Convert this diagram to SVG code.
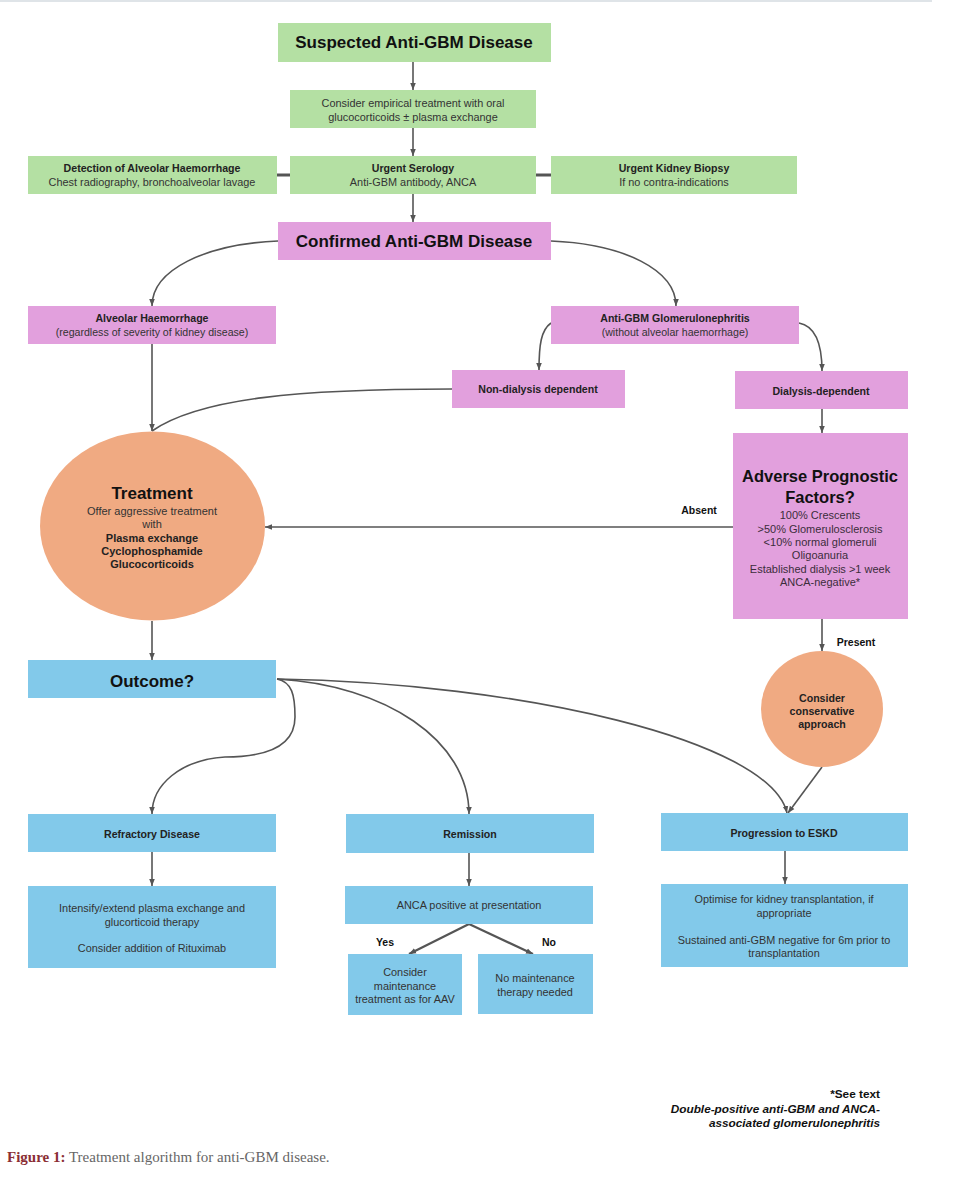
<svg xmlns="http://www.w3.org/2000/svg" width="961" height="1200" viewBox="0 0 961 1200">
<style>
.g{fill:#b4e0a3}
.p{fill:#e2a0dd}
.bl{fill:#82c9ea}
.o{fill:#f0aa82}
text{font-family:"Liberation Sans",Arial,sans-serif;text-anchor:middle;fill:#222}
.h{font-size:17px;font-weight:bold;fill:#111}
.hb{font-size:10.6px;font-weight:bold;fill:#222}
.n{font-size:10.9px;fill:#333}
.s{font-size:10.6px;fill:#333}
.lbl{font-size:10.5px;font-weight:bold;fill:#111}
.e{font-size:11px;fill:#333}
.eb{font-size:11px;font-weight:bold;fill:#222}
.c{fill:none;stroke:#555;stroke-width:1.6}
.fn{text-anchor:end;font-size:11.8px;font-weight:bold;fill:#111}
</style>
<defs>
<marker id="ah" viewBox="0 0 10 10" refX="10" refY="5" markerWidth="7" markerHeight="7" markerUnits="userSpaceOnUse" orient="auto"><path d="M0,1 L10,5 L0,9 z" fill="#555"/></marker>
</defs>
<rect width="961" height="1200" fill="#fff"/>
<line x1="0" y1="1" x2="932" y2="1" stroke="#dfe4e8" stroke-width="2"/>

<g id="connectors">
<line class="c" x1="413" y1="62" x2="413" y2="90" marker-end="url(#ah)"/>
<line class="c" x1="413" y1="128" x2="413" y2="156" marker-end="url(#ah)"/>
<line class="c" x1="413" y1="194" x2="413" y2="222" marker-end="url(#ah)"/>
<line x1="277" y1="175" x2="290" y2="175" stroke="#555" stroke-width="3"/>
<line x1="536" y1="175" x2="551" y2="175" stroke="#555" stroke-width="3"/>
<path class="c" d="M278,241 C205,244 152,270 152,306" marker-end="url(#ah)"/>
<path class="c" d="M551,241 C624,244 676,270 676,306" marker-end="url(#ah)"/>
<path class="c" d="M551,323 C541,330 539,345 539,370" marker-end="url(#ah)"/>
<path class="c" d="M799,323 C815,326 822,342 822,371" marker-end="url(#ah)"/>
<line class="c" x1="152" y1="344" x2="152" y2="431" marker-end="url(#ah)"/>
<path class="c" d="M452,389 C300,389 200,398 152,431"/>
<line class="c" x1="822" y1="409" x2="822" y2="433" marker-end="url(#ah)"/>
<line class="c" x1="733" y1="527" x2="265" y2="527" marker-end="url(#ah)"/>
<line class="c" x1="822" y1="619" x2="822" y2="651" marker-end="url(#ah)"/>
<line class="c" x1="152" y1="621" x2="152" y2="660" marker-end="url(#ah)"/>
<path class="c" d="M277,679 C292,682 295,695 295,717 C295,745 270,757 225,757 C180,760 152,785 152,814" marker-end="url(#ah)"/>
<path class="c" d="M277,679 C385,685 469,740 469,814" marker-end="url(#ah)"/>
<path class="c" d="M277,679 C520,683 770,740 787,813" marker-end="url(#ah)"/>
<line class="c" x1="822" y1="767" x2="788" y2="813" marker-end="url(#ah)"/>
<line class="c" x1="152" y1="852" x2="152" y2="886" marker-end="url(#ah)"/>
<line class="c" x1="469" y1="853" x2="469" y2="886" marker-end="url(#ah)"/>
<line class="c" x1="785" y1="851" x2="785" y2="884" marker-end="url(#ah)"/>
<line x1="469" y1="924" x2="409" y2="954" stroke="#555" stroke-width="2.2" marker-end="url(#ah)"/>
<line x1="469" y1="924" x2="533" y2="954" stroke="#555" stroke-width="2.2" marker-end="url(#ah)"/>
</g>

<g id="suspected"><rect class="g" x="278" y="23" width="273" height="39"/><text class="h" x="414" y="48">Suspected Anti-GBM Disease</text></g>
<g id="empirical"><rect class="g" x="290" y="90" width="246" height="38"/><text class="n" x="413" y="107">Consider empirical treatment with oral</text><text class="n" x="413" y="121">glucocorticoids ± plasma exchange</text></g>
<g id="detection"><rect class="g" x="28" y="156" width="249" height="38"/><text class="hb" x="152" y="172">Detection of Alveolar Haemorrhage</text><text class="n" x="152" y="186">Chest radiography, bronchoalveolar lavage</text></g>
<g id="serology"><rect class="g" x="290" y="156" width="246" height="38"/><text class="hb" x="413" y="172">Urgent Serology</text><text class="n" x="413" y="186">Anti-GBM antibody, ANCA</text></g>
<g id="biopsy"><rect class="g" x="551" y="156" width="246" height="38"/><text class="hb" x="674" y="172">Urgent Kidney Biopsy</text><text class="n" x="674" y="186">If no contra-indications</text></g>

<g id="confirmed"><rect class="p" x="278" y="222" width="273" height="38"/><text class="h" x="414" y="247">Confirmed Anti-GBM Disease</text></g>
<g id="alveolar"><rect class="p" x="28" y="306" width="248" height="38"/><text class="hb" x="152" y="322">Alveolar Haemorrhage</text><text class="s" x="152" y="336">(regardless of severity of kidney disease)</text></g>
<g id="antigbm"><rect class="p" x="551" y="306" width="248" height="38"/><text class="hb" x="675" y="322">Anti-GBM Glomerulonephritis</text><text class="s" x="675" y="336">(without alveolar haemorrhage)</text></g>
<g id="nondialysis"><rect class="p" x="452" y="370" width="173" height="38"/><text class="hb" x="538" y="393">Non-dialysis dependent</text></g>
<g id="dialysis"><rect class="p" x="735" y="371" width="173" height="38"/><text class="hb" x="821" y="395">Dialysis-dependent</text></g>
<g id="adverse"><rect class="p" x="733" y="433" width="175" height="186"/>
<text class="h" x="820" y="482" style="font-size:16.5px">Adverse Prognostic</text>
<text class="h" x="820" y="503" style="font-size:16.5px">Factors?</text>
<text class="e" x="820" y="519" style="fill:#3b2d3b">100% Crescents</text>
<text class="e" x="820" y="533" style="fill:#3b2d3b">&gt;50% Glomerulosclerosis</text>
<text class="e" x="820" y="546" style="fill:#3b2d3b">&lt;10% normal glomeruli</text>
<text class="e" x="820" y="559" style="fill:#3b2d3b">Oligoanuria</text>
<text class="e" x="820" y="573" style="fill:#3b2d3b">Established dialysis &gt;1 week</text>
<text class="e" x="820" y="586" style="fill:#3b2d3b">ANCA-negative*</text>
</g>
<text class="lbl" x="699" y="514">Absent</text>
<text class="lbl" x="856" y="646">Present</text>

<g id="treatment"><ellipse class="o" cx="152.5" cy="526" rx="112.5" ry="94.5"/>
<text class="h" x="152" y="499">Treatment</text>
<text class="e" x="152" y="515">Offer aggressive treatment</text>
<text class="e" x="152" y="528">with</text>
<text class="eb" x="152" y="542">Plasma exchange</text>
<text class="eb" x="152" y="555">Cyclophosphamide</text>
<text class="eb" x="152" y="568">Glucocorticoids</text>
</g>
<g id="conservative"><ellipse class="o" cx="822" cy="709" rx="61" ry="58"/>
<text class="hb" x="822" y="702">Consider</text>
<text class="hb" x="822" y="715">conservative</text>
<text class="hb" x="822" y="728">approach</text>
</g>

<g id="outcome"><rect class="bl" x="28" y="660" width="248" height="38"/><text class="h" x="152" y="687">Outcome?</text></g>
<g id="refractory"><rect class="bl" x="28" y="814" width="248" height="38"/><text class="hb" x="152" y="838">Refractory Disease</text></g>
<g id="remission"><rect class="bl" x="346" y="814" width="248" height="39"/><text class="hb" x="470" y="838">Remission</text></g>
<g id="eskd"><rect class="bl" x="661" y="813" width="247" height="38"/><text class="hb" x="784" y="837">Progression to ESKD</text></g>
<g id="intensify"><rect class="bl" x="28" y="886" width="248" height="82"/>
<text class="n" x="152" y="912">Intensify/extend plasma exchange and</text>
<text class="n" x="152" y="926">glucorticoid therapy</text>
<text class="n" x="152" y="952">Consider addition of Rituximab</text>
</g>
<g id="anca"><rect class="bl" x="345" y="886" width="248" height="38"/><text class="n" x="469" y="909">ANCA positive at presentation</text></g>
<text class="lbl" x="385" y="946">Yes</text>
<text class="lbl" x="549" y="946">No</text>
<g id="maintenance"><rect class="bl" x="348" y="954" width="114" height="61"/>
<text class="n" x="405" y="976">Consider</text>
<text class="n" x="405" y="990">maintenance</text>
<text class="n" x="405" y="1003">treatment as for AAV</text>
</g>
<g id="nomaintenance"><rect class="bl" x="478" y="954" width="115" height="60"/>
<text class="n" x="535" y="982">No maintenance</text>
<text class="n" x="535" y="996">therapy needed</text>
</g>
<g id="optimise"><rect class="bl" x="661" y="884" width="247" height="83"/>
<text class="n" x="784" y="903">Optimise for kidney transplantation, if</text>
<text class="n" x="784" y="917">appropriate</text>
<text class="n" x="784" y="944">Sustained anti-GBM negative for 6m prior to</text>
<text class="n" x="784" y="957">transplantation</text>
</g>

<g id="footnote">
<text class="fn" x="880" y="1098">*See text</text>
<text class="fn" x="880" y="1113" style="font-style:italic">Double-positive anti-GBM and ANCA-</text>
<text class="fn" x="880" y="1127" style="font-style:italic">associated glomerulonephritis</text>
</g>
<text x="7" y="1162" style="text-anchor:start;font-family:'Liberation Serif','Times New Roman',serif;font-size:15px;fill:#666"><tspan style="font-weight:bold;fill:#8b2e34">Figure 1:</tspan> Treatment algorithm for anti-GBM disease.</text>
</svg>
